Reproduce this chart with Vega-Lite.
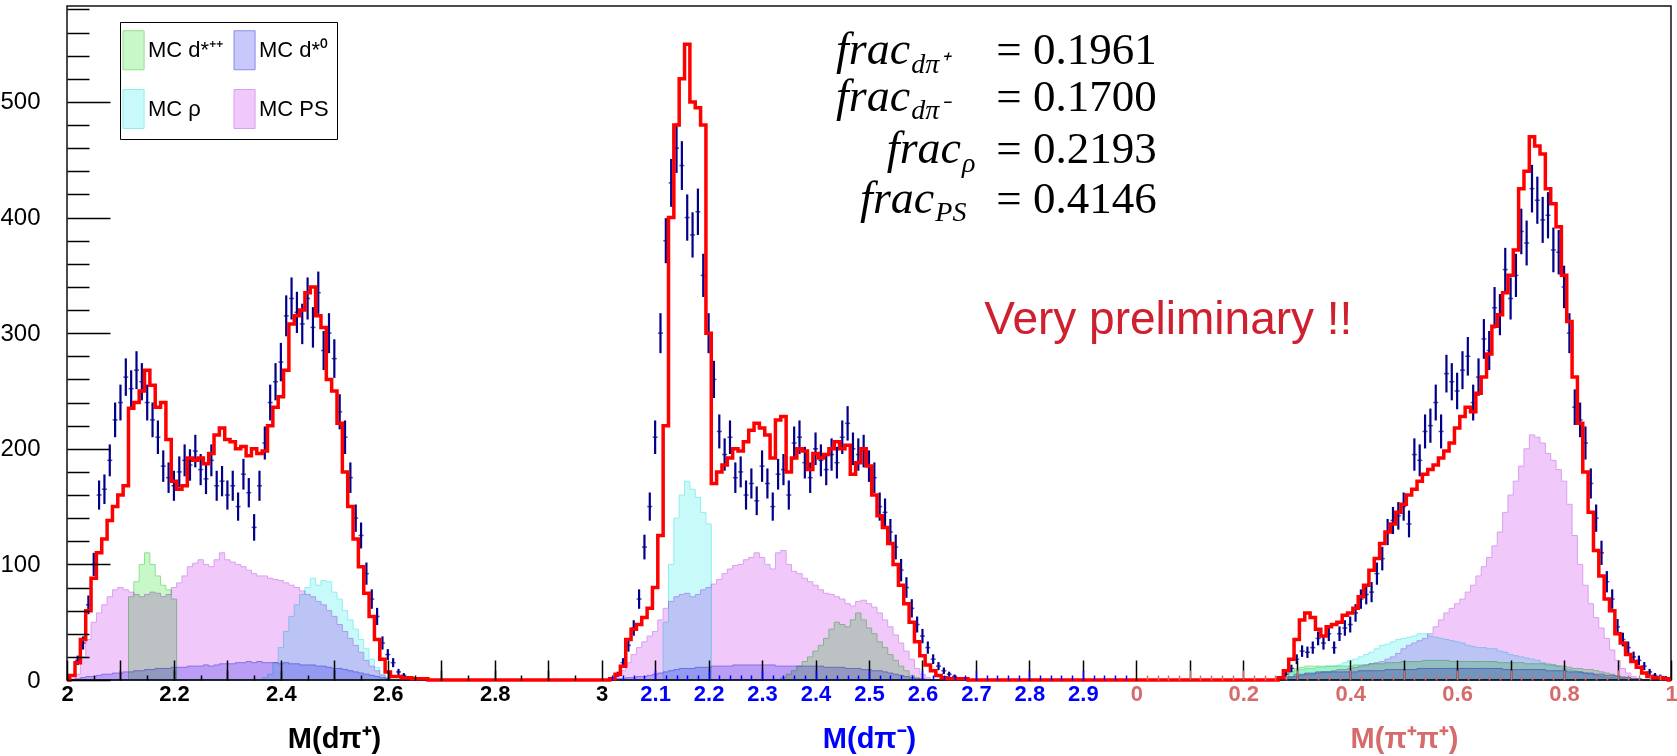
{
"$schema": "https://vega.github.io/schema/vega-lite/v6.json",
"width": 1604, "height": 674,
"autosize": {"type": "none"},
"padding": {"left": 67, "top": 6, "right": 6, "bottom": 76},
"background": "white",
"config": {"font": "Liberation Sans", "view": {"stroke": "#111", "strokeWidth": 1.5}, "axis": {"grid": false}},
"datasets": {
"h": [
{"p":1,"m":2.00,"d":0,"e":0,"f":0,"s":0,"r":0,"g":0,"b":0},
{"p":1,"m":2.01,"d":0,"e":0,"f":4,"s":1,"r":0,"g":0,"b":0},
{"p":1,"m":2.02,"d":17,"e":4.1,"f":15,"s":5,"r":0,"g":0,"b":1},
{"p":1,"m":2.03,"d":32,"e":5.7,"f":35,"s":20,"r":0,"g":0,"b":2},
{"p":1,"m":2.04,"d":65,"e":8.1,"f":60,"s":35,"r":0,"g":0,"b":3},
{"p":1,"m":2.05,"d":100,"e":10,"f":88,"s":50,"r":0,"g":0,"b":3},
{"p":1,"m":2.06,"d":160,"e":12.6,"f":110,"s":58,"r":0,"g":0,"b":4},
{"p":1,"m":2.07,"d":165,"e":12.8,"f":122,"s":65,"r":0,"g":0,"b":5},
{"p":1,"m":2.08,"d":190,"e":13.8,"f":138,"s":72,"r":0,"g":0,"b":5},
{"p":1,"m":2.09,"d":225,"e":15,"f":150,"s":78,"r":0,"g":0,"b":6},
{"p":1,"m":2.10,"d":240,"e":15.5,"f":160,"s":80,"r":0,"g":0,"b":6},
{"p":1,"m":2.11,"d":262,"e":16.2,"f":168,"s":78,"r":0,"g":0,"b":7},
{"p":1,"m":2.12,"d":252,"e":15.9,"f":235,"s":76,"r":0,"g":72,"b":7},
{"p":1,"m":2.13,"d":268,"e":16.4,"f":240,"s":74,"r":0,"g":85,"b":8},
{"p":1,"m":2.14,"d":258,"e":16.1,"f":250,"s":72,"r":0,"g":100,"b":8},
{"p":1,"m":2.15,"d":240,"e":15.5,"f":268,"s":74,"r":0,"g":110,"b":9},
{"p":1,"m":2.16,"d":225,"e":15,"f":255,"s":76,"r":0,"g":100,"b":9},
{"p":1,"m":2.17,"d":210,"e":14.5,"f":236,"s":75,"r":0,"g":90,"b":10},
{"p":1,"m":2.18,"d":185,"e":13.6,"f":240,"s":72,"r":0,"g":82,"b":10},
{"p":1,"m":2.19,"d":175,"e":13.2,"f":208,"s":74,"r":0,"g":78,"b":10},
{"p":1,"m":2.20,"d":168,"e":13,"f":172,"s":80,"r":0,"g":70,"b":11},
{"p":1,"m":2.21,"d":180,"e":13.4,"f":165,"s":84,"r":0,"g":0,"b":11},
{"p":1,"m":2.22,"d":190,"e":13.8,"f":168,"s":90,"r":0,"g":0,"b":11},
{"p":1,"m":2.23,"d":186,"e":13.6,"f":192,"s":98,"r":0,"g":0,"b":12},
{"p":1,"m":2.24,"d":198,"e":14.1,"f":190,"s":101,"r":0,"g":0,"b":12},
{"p":1,"m":2.25,"d":182,"e":13.5,"f":192,"s":104,"r":0,"g":0,"b":12},
{"p":1,"m":2.26,"d":174,"e":13.2,"f":187,"s":100,"r":0,"g":0,"b":13},
{"p":1,"m":2.27,"d":190,"e":13.8,"f":196,"s":98,"r":0,"g":0,"b":12},
{"p":1,"m":2.28,"d":168,"e":13,"f":212,"s":104,"r":0,"g":0,"b":13},
{"p":1,"m":2.29,"d":172,"e":13.1,"f":218,"s":110,"r":0,"g":0,"b":14},
{"p":1,"m":2.30,"d":160,"e":12.6,"f":208,"s":104,"r":0,"g":0,"b":14},
{"p":1,"m":2.31,"d":168,"e":13,"f":206,"s":102,"r":0,"g":0,"b":14},
{"p":1,"m":2.32,"d":150,"e":12.2,"f":200,"s":100,"r":0,"g":0,"b":15},
{"p":1,"m":2.33,"d":178,"e":13.3,"f":202,"s":98,"r":0,"g":0,"b":15},
{"p":1,"m":2.34,"d":162,"e":12.7,"f":194,"s":95,"r":0,"g":0,"b":16},
{"p":1,"m":2.35,"d":132,"e":11.5,"f":200,"s":92,"r":0,"g":0,"b":15},
{"p":1,"m":2.36,"d":168,"e":13,"f":196,"s":90,"r":0,"g":0,"b":16},
{"p":1,"m":2.37,"d":205,"e":14.3,"f":198,"s":90,"r":2,"g":0,"b":15},
{"p":1,"m":2.38,"d":240,"e":15.5,"f":220,"s":88,"r":5,"g":0,"b":15},
{"p":1,"m":2.39,"d":258,"e":16.1,"f":236,"s":87,"r":15,"g":0,"b":15},
{"p":1,"m":2.40,"d":275,"e":16.6,"f":245,"s":86,"r":28,"g":0,"b":14},
{"p":1,"m":2.41,"d":315,"e":17.7,"f":268,"s":84,"r":42,"g":0,"b":15},
{"p":1,"m":2.42,"d":330,"e":18.2,"f":308,"s":82,"r":55,"g":0,"b":14},
{"p":1,"m":2.43,"d":318,"e":17.8,"f":315,"s":80,"r":65,"g":0,"b":14},
{"p":1,"m":2.44,"d":308,"e":17.5,"f":320,"s":77,"r":74,"g":0,"b":13},
{"p":1,"m":2.45,"d":330,"e":18.2,"f":335,"s":74,"r":80,"g":0,"b":13},
{"p":1,"m":2.46,"d":305,"e":17.5,"f":340,"s":72,"r":88,"g":0,"b":13},
{"p":1,"m":2.47,"d":335,"e":18.3,"f":315,"s":68,"r":82,"g":0,"b":12},
{"p":1,"m":2.48,"d":285,"e":16.9,"f":305,"s":65,"r":86,"g":0,"b":12},
{"p":1,"m":2.49,"d":300,"e":17.3,"f":260,"s":60,"r":85,"g":0,"b":11},
{"p":1,"m":2.50,"d":278,"e":16.7,"f":250,"s":55,"r":76,"g":0,"b":10},
{"p":1,"m":2.51,"d":232,"e":15.2,"f":222,"s":48,"r":70,"g":0,"b":10},
{"p":1,"m":2.52,"d":210,"e":14.5,"f":180,"s":42,"r":60,"g":0,"b":9},
{"p":1,"m":2.53,"d":175,"e":13.2,"f":150,"s":36,"r":52,"g":0,"b":8},
{"p":1,"m":2.54,"d":140,"e":11.8,"f":122,"s":30,"r":44,"g":0,"b":7},
{"p":1,"m":2.55,"d":125,"e":11.2,"f":98,"s":24,"r":35,"g":0,"b":6},
{"p":1,"m":2.56,"d":92,"e":9.6,"f":75,"s":17,"r":27,"g":0,"b":5},
{"p":1,"m":2.57,"d":70,"e":8.4,"f":55,"s":12,"r":18,"g":0,"b":4},
{"p":1,"m":2.58,"d":55,"e":7.4,"f":35,"s":8,"r":11,"g":0,"b":3},
{"p":1,"m":2.59,"d":32,"e":5.7,"f":18,"s":4,"r":5,"g":0,"b":2},
{"p":1,"m":2.60,"d":22,"e":4.7,"f":7,"s":2,"r":1,"g":0,"b":1},
{"p":1,"m":2.61,"d":15,"e":3.9,"f":3,"s":0,"r":0,"g":0,"b":0},
{"p":1,"m":2.62,"d":7,"e":2.6,"f":3,"s":0,"r":0,"g":0,"b":0},
{"p":1,"m":2.63,"d":4,"e":2,"f":2,"s":0,"r":0,"g":0,"b":0},
{"p":1,"m":2.64,"d":2,"e":1.4,"f":2,"s":0,"r":0,"g":0,"b":0},
{"p":1,"m":2.65,"d":0,"e":0,"f":1,"s":0,"r":0,"g":0,"b":0},
{"p":1,"m":2.70,"d":0,"e":0,"f":0,"s":0,"r":0,"g":0,"b":0},
{"p":1,"m":2.99,"d":0,"e":0,"f":0,"s":0,"r":0,"g":0,"b":0},
{"p":2,"m":2.00,"d":0,"e":0,"f":0,"s":0,"r":0,"g":0,"b":0},
{"p":2,"m":2.01,"d":0,"e":0,"f":0,"s":0,"r":0,"g":0,"b":0},
{"p":2,"m":2.02,"d":0,"e":0,"f":1,"s":0,"r":0,"g":0,"b":0},
{"p":2,"m":2.03,"d":5,"e":2.2,"f":5,"s":3,"r":0,"g":0,"b":1},
{"p":2,"m":2.04,"d":15,"e":3.9,"f":12,"s":8,"r":0,"g":0,"b":1},
{"p":2,"m":2.05,"d":30,"e":5.5,"f":35,"s":15,"r":0,"g":0,"b":2},
{"p":2,"m":2.06,"d":45,"e":6.7,"f":44,"s":22,"r":0,"g":0,"b":2},
{"p":2,"m":2.07,"d":70,"e":8.4,"f":48,"s":28,"r":0,"g":0,"b":3},
{"p":2,"m":2.08,"d":115,"e":10.7,"f":54,"s":33,"r":0,"g":0,"b":3},
{"p":2,"m":2.09,"d":150,"e":12.2,"f":62,"s":38,"r":0,"g":0,"b":4},
{"p":2,"m":2.10,"d":210,"e":14.5,"f":80,"s":42,"r":0,"g":0,"b":5},
{"p":2,"m":2.11,"d":300,"e":17.3,"f":125,"s":52,"r":0,"g":0,"b":6},
{"p":2,"m":2.12,"d":380,"e":19.5,"f":220,"s":62,"r":50,"g":0,"b":7},
{"p":2,"m":2.13,"d":430,"e":20.7,"f":400,"s":68,"r":100,"g":0,"b":8},
{"p":2,"m":2.14,"d":460,"e":21.4,"f":480,"s":72,"r":140,"g":0,"b":9},
{"p":2,"m":2.15,"d":445,"e":21.1,"f":520,"s":74,"r":160,"g":0,"b":10},
{"p":2,"m":2.16,"d":400,"e":20,"f":550,"s":75,"r":172,"g":0,"b":10},
{"p":2,"m":2.17,"d":385,"e":19.6,"f":500,"s":72,"r":165,"g":0,"b":10},
{"p":2,"m":2.18,"d":405,"e":20.1,"f":495,"s":74,"r":158,"g":0,"b":11},
{"p":2,"m":2.19,"d":350,"e":18.7,"f":480,"s":78,"r":145,"g":0,"b":11},
{"p":2,"m":2.20,"d":300,"e":17.3,"f":300,"s":80,"r":135,"g":0,"b":11},
{"p":2,"m":2.21,"d":260,"e":16.1,"f":170,"s":83,"r":0,"g":0,"b":12},
{"p":2,"m":2.22,"d":215,"e":14.7,"f":180,"s":87,"r":0,"g":0,"b":12},
{"p":2,"m":2.23,"d":195,"e":14,"f":186,"s":92,"r":0,"g":0,"b":12},
{"p":2,"m":2.24,"d":210,"e":14.5,"f":192,"s":96,"r":0,"g":0,"b":12},
{"p":2,"m":2.25,"d":175,"e":13.2,"f":200,"s":99,"r":0,"g":0,"b":13},
{"p":2,"m":2.26,"d":180,"e":13.4,"f":198,"s":100,"r":0,"g":0,"b":13},
{"p":2,"m":2.27,"d":160,"e":12.6,"f":206,"s":104,"r":0,"g":0,"b":13},
{"p":2,"m":2.28,"d":170,"e":13,"f":216,"s":106,"r":0,"g":0,"b":13},
{"p":2,"m":2.29,"d":155,"e":12.4,"f":222,"s":110,"r":0,"g":0,"b":13},
{"p":2,"m":2.30,"d":185,"e":13.6,"f":218,"s":106,"r":0,"g":0,"b":13},
{"p":2,"m":2.31,"d":170,"e":13,"f":212,"s":100,"r":0,"g":0,"b":13},
{"p":2,"m":2.32,"d":150,"e":12.2,"f":192,"s":96,"r":0,"g":0,"b":13},
{"p":2,"m":2.33,"d":178,"e":13.3,"f":225,"s":110,"r":0,"g":0,"b":12},
{"p":2,"m":2.34,"d":182,"e":13.5,"f":228,"s":112,"r":0,"g":2,"b":12},
{"p":2,"m":2.35,"d":160,"e":12.6,"f":180,"s":100,"r":0,"g":5,"b":12},
{"p":2,"m":2.36,"d":205,"e":14.3,"f":192,"s":94,"r":0,"g":8,"b":12},
{"p":2,"m":2.37,"d":210,"e":14.5,"f":200,"s":92,"r":0,"g":12,"b":12},
{"p":2,"m":2.38,"d":188,"e":13.7,"f":198,"s":88,"r":0,"g":16,"b":12},
{"p":2,"m":2.39,"d":175,"e":13.2,"f":182,"s":85,"r":0,"g":20,"b":12},
{"p":2,"m":2.40,"d":200,"e":14.1,"f":196,"s":82,"r":0,"g":25,"b":12},
{"p":2,"m":2.41,"d":190,"e":13.8,"f":192,"s":78,"r":0,"g":30,"b":12},
{"p":2,"m":2.42,"d":182,"e":13.5,"f":195,"s":75,"r":0,"g":36,"b":11},
{"p":2,"m":2.43,"d":195,"e":14,"f":200,"s":74,"r":0,"g":44,"b":11},
{"p":2,"m":2.44,"d":188,"e":13.7,"f":206,"s":72,"r":0,"g":50,"b":11},
{"p":2,"m":2.45,"d":210,"e":14.5,"f":200,"s":70,"r":0,"g":48,"b":11},
{"p":2,"m":2.46,"d":222,"e":14.9,"f":203,"s":66,"r":0,"g":46,"b":10},
{"p":2,"m":2.47,"d":200,"e":14.1,"f":178,"s":64,"r":0,"g":52,"b":10},
{"p":2,"m":2.48,"d":195,"e":14,"f":188,"s":68,"r":0,"g":58,"b":10},
{"p":2,"m":2.49,"d":198,"e":14.1,"f":200,"s":69,"r":0,"g":52,"b":9},
{"p":2,"m":2.50,"d":185,"e":13.6,"f":185,"s":66,"r":0,"g":45,"b":9},
{"p":2,"m":2.51,"d":175,"e":13.2,"f":160,"s":63,"r":0,"g":40,"b":8},
{"p":2,"m":2.52,"d":150,"e":12.2,"f":142,"s":58,"r":0,"g":33,"b":8},
{"p":2,"m":2.53,"d":145,"e":12,"f":132,"s":52,"r":0,"g":28,"b":7},
{"p":2,"m":2.54,"d":128,"e":11.3,"f":118,"s":46,"r":0,"g":22,"b":6},
{"p":2,"m":2.55,"d":115,"e":10.7,"f":100,"s":39,"r":0,"g":17,"b":5},
{"p":2,"m":2.56,"d":95,"e":9.7,"f":82,"s":32,"r":0,"g":12,"b":4},
{"p":2,"m":2.57,"d":80,"e":8.9,"f":66,"s":25,"r":0,"g":8,"b":3},
{"p":2,"m":2.58,"d":62,"e":7.9,"f":50,"s":18,"r":0,"g":4,"b":2},
{"p":2,"m":2.59,"d":48,"e":6.9,"f":33,"s":10,"r":0,"g":2,"b":1},
{"p":2,"m":2.60,"d":38,"e":6.2,"f":21,"s":5,"r":0,"g":0,"b":1},
{"p":2,"m":2.61,"d":28,"e":5.3,"f":13,"s":2,"r":0,"g":0,"b":0},
{"p":2,"m":2.62,"d":18,"e":4.2,"f":8,"s":0,"r":0,"g":0,"b":0},
{"p":2,"m":2.63,"d":12,"e":3.5,"f":4,"s":0,"r":0,"g":0,"b":0},
{"p":2,"m":2.64,"d":8,"e":2.8,"f":2,"s":0,"r":0,"g":0,"b":0},
{"p":2,"m":2.65,"d":5,"e":2.2,"f":1,"s":0,"r":0,"g":0,"b":0},
{"p":2,"m":2.66,"d":3,"e":1.7,"f":1,"s":0,"r":0,"g":0,"b":0},
{"p":2,"m":2.67,"d":0,"e":0,"f":1,"s":0,"r":0,"g":0,"b":0},
{"p":2,"m":2.70,"d":0,"e":0,"f":0,"s":0,"r":0,"g":0,"b":0},
{"p":2,"m":2.99,"d":0,"e":0,"f":0,"s":0,"r":0,"g":0,"b":0},
{"p":3,"m":0.00,"d":0,"e":0,"f":0,"s":0,"r":0,"g":0,"b":0},
{"p":3,"m":0.25,"d":0,"e":0,"f":0,"s":0,"r":0,"g":0,"b":0},
{"p":3,"m":0.26,"d":0,"e":0,"f":0,"s":0,"r":0,"g":0,"b":0},
{"p":3,"m":0.27,"d":2,"e":1.4,"f":2,"s":0,"r":1,"g":1,"b":1},
{"p":3,"m":0.28,"d":5,"e":2.2,"f":8,"s":1,"r":3,"g":3,"b":2},
{"p":3,"m":0.29,"d":10,"e":3.2,"f":18,"s":2,"r":6,"g":7,"b":3},
{"p":3,"m":0.30,"d":18,"e":4.2,"f":35,"s":3,"r":8,"g":10,"b":5},
{"p":3,"m":0.31,"d":25,"e":5,"f":52,"s":4,"r":9,"g":11,"b":5},
{"p":3,"m":0.32,"d":24,"e":4.9,"f":58,"s":5,"r":10,"g":12,"b":6},
{"p":3,"m":0.33,"d":28,"e":5.3,"f":54,"s":5,"r":10,"g":12,"b":6},
{"p":3,"m":0.34,"d":36,"e":6,"f":44,"s":6,"r":11,"g":12,"b":7},
{"p":3,"m":0.35,"d":32,"e":5.7,"f":38,"s":7,"r":11,"g":12,"b":7},
{"p":3,"m":0.36,"d":40,"e":6.3,"f":46,"s":7,"r":12,"g":12,"b":7},
{"p":3,"m":0.37,"d":28,"e":5.3,"f":48,"s":8,"r":12,"g":12,"b":7},
{"p":3,"m":0.38,"d":40,"e":6.3,"f":50,"s":9,"r":13,"g":12,"b":7},
{"p":3,"m":0.39,"d":45,"e":6.7,"f":56,"s":9,"r":15,"g":12,"b":7},
{"p":3,"m":0.40,"d":48,"e":6.9,"f":58,"s":10,"r":17,"g":12,"b":7},
{"p":3,"m":0.41,"d":58,"e":7.6,"f":62,"s":11,"r":18,"g":13,"b":7},
{"p":3,"m":0.42,"d":70,"e":8.4,"f":72,"s":12,"r":20,"g":13,"b":8},
{"p":3,"m":0.43,"d":74,"e":8.6,"f":82,"s":13,"r":22,"g":13,"b":8},
{"p":3,"m":0.44,"d":76,"e":8.7,"f":95,"s":14,"r":24,"g":14,"b":8},
{"p":3,"m":0.45,"d":92,"e":9.6,"f":105,"s":15,"r":27,"g":14,"b":8},
{"p":3,"m":0.46,"d":105,"e":10.2,"f":118,"s":16,"r":30,"g":14,"b":8},
{"p":3,"m":0.47,"d":128,"e":11.3,"f":128,"s":18,"r":31,"g":15,"b":9},
{"p":3,"m":0.48,"d":138,"e":11.7,"f":135,"s":20,"r":33,"g":15,"b":9},
{"p":3,"m":0.49,"d":142,"e":11.9,"f":145,"s":23,"r":35,"g":15,"b":9},
{"p":3,"m":0.50,"d":150,"e":12.2,"f":152,"s":27,"r":36,"g":16,"b":9},
{"p":3,"m":0.51,"d":135,"e":11.6,"f":160,"s":30,"r":37,"g":16,"b":9},
{"p":3,"m":0.52,"d":195,"e":14,"f":165,"s":32,"r":38,"g":16,"b":9},
{"p":3,"m":0.53,"d":190,"e":13.8,"f":172,"s":34,"r":40,"g":16,"b":10},
{"p":3,"m":0.54,"d":215,"e":14.7,"f":178,"s":36,"r":40,"g":17,"b":10},
{"p":3,"m":0.55,"d":220,"e":14.8,"f":182,"s":40,"r":38,"g":17,"b":10},
{"p":3,"m":0.56,"d":240,"e":15.5,"f":186,"s":46,"r":37,"g":17,"b":10},
{"p":3,"m":0.57,"d":215,"e":14.7,"f":192,"s":52,"r":36,"g":17,"b":10},
{"p":3,"m":0.58,"d":265,"e":16.3,"f":198,"s":58,"r":35,"g":17,"b":10},
{"p":3,"m":0.59,"d":258,"e":16.1,"f":205,"s":62,"r":34,"g":16,"b":10},
{"p":3,"m":0.60,"d":250,"e":15.8,"f":218,"s":66,"r":33,"g":16,"b":10},
{"p":3,"m":0.61,"d":268,"e":16.4,"f":228,"s":70,"r":32,"g":16,"b":10},
{"p":3,"m":0.62,"d":280,"e":16.7,"f":236,"s":76,"r":30,"g":16,"b":10},
{"p":3,"m":0.63,"d":240,"e":15.5,"f":232,"s":82,"r":29,"g":16,"b":10},
{"p":3,"m":0.64,"d":262,"e":16.2,"f":248,"s":90,"r":28,"g":16,"b":10},
{"p":3,"m":0.65,"d":295,"e":17.2,"f":262,"s":98,"r":28,"g":16,"b":10},
{"p":3,"m":0.66,"d":285,"e":16.9,"f":282,"s":106,"r":27,"g":16,"b":10},
{"p":3,"m":0.67,"d":322,"e":17.9,"f":306,"s":116,"r":27,"g":16,"b":10},
{"p":3,"m":0.68,"d":316,"e":17.8,"f":316,"s":128,"r":25,"g":15,"b":10},
{"p":3,"m":0.69,"d":355,"e":18.8,"f":335,"s":145,"r":24,"g":15,"b":9},
{"p":3,"m":0.70,"d":330,"e":18.2,"f":350,"s":160,"r":22,"g":15,"b":9},
{"p":3,"m":0.71,"d":350,"e":18.7,"f":372,"s":172,"r":21,"g":15,"b":9},
{"p":3,"m":0.72,"d":388,"e":19.7,"f":425,"s":185,"r":20,"g":15,"b":9},
{"p":3,"m":0.73,"d":378,"e":19.4,"f":440,"s":200,"r":19,"g":14,"b":9},
{"p":3,"m":0.74,"d":425,"e":20.6,"f":470,"s":212,"r":18,"g":14,"b":9},
{"p":3,"m":0.75,"d":415,"e":20.4,"f":462,"s":210,"r":17,"g":14,"b":9},
{"p":3,"m":0.76,"d":398,"e":19.9,"f":455,"s":205,"r":15,"g":14,"b":9},
{"p":3,"m":0.77,"d":402,"e":20,"f":425,"s":196,"r":14,"g":13,"b":8},
{"p":3,"m":0.78,"d":372,"e":19.3,"f":412,"s":190,"r":13,"g":13,"b":8},
{"p":3,"m":0.79,"d":370,"e":19.2,"f":392,"s":182,"r":12,"g":12,"b":8},
{"p":3,"m":0.80,"d":340,"e":18.4,"f":350,"s":172,"r":10,"g":12,"b":8},
{"p":3,"m":0.81,"d":300,"e":17.3,"f":310,"s":152,"r":9,"g":11,"b":7},
{"p":3,"m":0.82,"d":236,"e":15.4,"f":262,"s":125,"r":8,"g":10,"b":7},
{"p":3,"m":0.83,"d":225,"e":15,"f":222,"s":100,"r":7,"g":10,"b":7},
{"p":3,"m":0.84,"d":205,"e":14.3,"f":180,"s":82,"r":6,"g":9,"b":6},
{"p":3,"m":0.85,"d":170,"e":13,"f":145,"s":66,"r":5,"g":9,"b":6},
{"p":3,"m":0.86,"d":140,"e":11.8,"f":112,"s":54,"r":4,"g":8,"b":5},
{"p":3,"m":0.87,"d":110,"e":10.5,"f":90,"s":45,"r":3,"g":7,"b":5},
{"p":3,"m":0.88,"d":85,"e":9.2,"f":70,"s":36,"r":2,"g":6,"b":4},
{"p":3,"m":0.89,"d":70,"e":8.4,"f":60,"s":26,"r":2,"g":5,"b":4},
{"p":3,"m":0.90,"d":46,"e":6.8,"f":40,"s":17,"r":1,"g":4,"b":3},
{"p":3,"m":0.91,"d":35,"e":5.9,"f":32,"s":10,"r":1,"g":3,"b":2},
{"p":3,"m":0.92,"d":28,"e":5.3,"f":22,"s":6,"r":0,"g":2,"b":2},
{"p":3,"m":0.93,"d":20,"e":4.5,"f":16,"s":3,"r":0,"g":1,"b":1},
{"p":3,"m":0.94,"d":17,"e":4.1,"f":11,"s":1,"r":0,"g":1,"b":1},
{"p":3,"m":0.95,"d":12,"e":3.5,"f":6,"s":0,"r":0,"g":0,"b":0},
{"p":3,"m":0.96,"d":7,"e":2.6,"f":3,"s":0,"r":0,"g":0,"b":0},
{"p":3,"m":0.97,"d":4,"e":2,"f":2,"s":0,"r":0,"g":0,"b":0},
{"p":3,"m":0.98,"d":3,"e":1.7,"f":2,"s":0,"r":0,"g":0,"b":0},
{"p":3,"m":0.99,"d":2,"e":1.4,"f":1,"s":0,"r":0,"g":0,"b":0},
{"p":3,"m":1.00,"d":0,"e":0,"f":0,"s":0,"r":0,"g":0,"b":0}
],
"ann": [
{"k":"f","u":1.577,"v":533,"t":"frac"},
{"k":"f","u":1.577,"v":492.6,"t":"frac"},
{"k":"f","u":1.672,"v":446.8,"t":"frac"},
{"k":"f","u":1.622,"v":404.3,"t":"frac"},
{"k":"s","u":1.579,"v":525,"t":"dπ⁺"},
{"k":"s","u":1.579,"v":485,"t":"dπ⁻"},
{"k":"s","u":1.674,"v":439,"t":"ρ"},
{"k":"s","u":1.624,"v":397,"t":"PS"},
{"k":"e","u":2.038,"v":533,"t":"= 0.1961"},
{"k":"e","u":2.038,"v":492.6,"t":"= 0.1700"},
{"k":"e","u":2.038,"v":446.8,"t":"= 0.2193"},
{"k":"e","u":2.038,"v":404.3,"t":"= 0.4146"},
{"k":"p","u":1.7156,"v":299.6,"t":"Very preliminary !!"}
]
},
"resolve": {"axis": {"x": "independent", "y": "independent"}},
"layer": [
{
"data": {"name": "h"},
"transform": [
{"calculate": "datum.p == 1 ? datum.m - 2 : (datum.p == 2 ? datum.m - 1 : datum.m + 2)", "as": "u"},
{"fold": ["s", "r", "g", "b"], "as": ["k", "val"]}
],
"mark": {"type": "area", "interpolate": "step", "blend": "multiply", "strokeWidth": 1},
"encoding": {
"x": {"field": "u", "type": "quantitative", "scale": {"domain": [0, 3], "nice": false, "zero": false},
 "axis": {"orient": "bottom", "zindex": 1, "values": [0,0.2,0.4,0.6,0.8,1,1.1,1.2,1.3,1.4,1.5,1.6,1.7,1.8,1.9,2,2.2,2.4,2.6,2.8,3],
  "labelExpr": "datum.value < 1.001 ? format(datum.value + 2, '~g') : (datum.value < 1.999 ? format(datum.value + 1, '.1f') : format(datum.value - 2, '~g'))",
  "labelColor": {"condition": [{"test": "datum.value < 1.001", "value": "#000000"}, {"test": "datum.value < 1.999", "value": "#0000ff"}], "value": "#d66b6b"},
  "ticks": false, "domain": false, "grid": false, "labelFont": "Liberation Sans", "labelFontWeight": "bold", "labelFontSize": 22, "labelPadding": 3,
  "labelOverlap": false, "labelFlush": false, "labelBound": false,
  "title": "M(dπ⁺)", "titleX": 267, "titleY": 67, "titleFont": "Liberation Sans", "titleFontSize": 29, "titleFontWeight": "bold", "titleColor": "#000000", "titleBaseline": "alphabetic", "titleAlign": "center"}},
"y": {"field": "val", "type": "quantitative", "stack": null, "scale": {"domain": [0, 583], "nice": false},
 "axis": {"orient": "left", "zindex": 1, "values": [0,100,200,300,400,500], "ticks": false, "domain": false, "grid": false, "labelFont": "Liberation Sans", "labelFontSize": 24, "labelPadding": 27, "labelColor": "#000000", "title": null}},
"color": {"field": "k", "type": "nominal", "scale": {"domain": ["g", "r", "b", "s"], "range": ["#c8f8c8", "#c8fafa", "#c8c8fa", "#f0c8fa"]},
 "legend": {"orient": "none", "legendX": 53, "legendY": 16, "columns": 2, "title": null, "symbolType": "M-1.28,-1H-0.2V1H-1.28Z", "symbolSize": 1521, "symbolStrokeWidth": 1, "symbolStrokeColor": "#bbbbbb", "symbolOpacity": 1,
  "labelFont": "Liberation Sans", "labelFontSize": 22, "labelColor": "#000000", "labelOffset": -20, "padding": 8, "rowPadding": 15, "columnPadding": 8, "strokeColor": "#000000", "fillColor": "#ffffff",
  "labelExpr": "datum.label == 'g' ? 'MC d*⁺⁺' : (datum.label == 'b' ? 'MC d*⁰' : (datum.label == 'r' ? 'MC ρ' : 'MC PS'))"}},
"stroke": {"field": "k", "type": "nominal", "scale": {"domain": ["g", "r", "b", "s"], "range": ["#90e090", "#90eef0", "#8c8cf0", "#d8a0f0"]}, "legend": null}
}
},
{
"data": {"name": "h"},
"transform": [
{"calculate": "datum.p == 1 ? datum.m - 2 : (datum.p == 2 ? datum.m - 1 : datum.m + 2)", "as": "u"},
{"filter": "datum.d > 0"},
{"calculate": "datum.d - datum.e", "as": "lo"},
{"calculate": "datum.d + datum.e", "as": "hi"}
],
"mark": {"type": "rule", "color": "#00008b", "strokeWidth": 2.2},
"encoding": {
"x": {"field": "u", "type": "quantitative", "scale": {"domain": [0, 3], "nice": false, "zero": false},
 "axis": {"orient": "bottom", "zindex": 1, "values": [0,0.1,0.2,0.3,0.4,0.5,0.6,0.7,0.8,0.9,1,1.1,1.2,1.3,1.4,1.5,1.6,1.7,1.8,1.9,2,2.1,2.2,2.3,2.4,2.5,2.6,2.7,2.8,2.9,3],
  "tickSize": -20, "tickColor": "#000000", "tickWidth": 1.5, "labels": false, "domain": false, "grid": false,
  "title": "M(dπ⁻)", "titleX": 802, "titleY": 67, "titleFont": "Liberation Sans", "titleFontSize": 29, "titleFontWeight": "bold", "titleColor": "#0000ff", "titleBaseline": "alphabetic", "titleAlign": "center"}},
"y": {"field": "lo", "type": "quantitative", "scale": {"domain": [0, 583], "nice": false},
 "axis": {"orient": "left", "zindex": 1, "values": [0,100,200,300,400,500], "tickSize": -43, "tickWidth": 1.5, "tickColor": "#000000", "labels": false, "domain": false, "grid": false, "title": null}},
"y2": {"field": "hi"}
}
},
{
"data": {"name": "h"},
"transform": [
{"calculate": "datum.p == 1 ? datum.m - 2 : (datum.p == 2 ? datum.m - 1 : datum.m + 2)", "as": "u"},
{"filter": "datum.d > 0"}
],
"mark": {"type": "tick", "orient": "horizontal", "color": "#00008b", "size": 5, "thickness": 1.5},
"encoding": {
"x": {"field": "u", "type": "quantitative", "scale": {"domain": [0, 3], "nice": false, "zero": false},
 "axis": {"orient": "bottom", "zindex": 1, "values": [0.05,0.15,0.25,0.35,0.45,0.55,0.65,0.75,0.85,0.95,1.02,1.04,1.06,1.08,1.12,1.14,1.16,1.18,1.22,1.24,1.26,1.28,1.32,1.34,1.36,1.38,1.42,1.44,1.46,1.48,1.52,1.54,1.56,1.58,1.62,1.64,1.66,1.68,1.72,1.74,1.76,1.78,1.82,1.84,1.86,1.88,1.92,1.94,1.96,1.98,2.02,2.04,2.06,2.08,2.12,2.14,2.16,2.18,2.22,2.24,2.26,2.28,2.32,2.34,2.36,2.38,2.42,2.44,2.46,2.48,2.52,2.54,2.56,2.58,2.62,2.64,2.66,2.68,2.72,2.74,2.76,2.78,2.82,2.84,2.86,2.88,2.92,2.94,2.96,2.98],
  "tickSize": -5, "tickWidth": 1.5,
  "tickColor": {"condition": [{"test": "datum.value < 1.001", "value": "#000000"}, {"test": "datum.value < 1.999", "value": "#0000ff"}], "value": "#d66b6b"},
  "labels": false, "domain": false, "grid": false,
  "title": "M(π⁺π⁺)", "titleX": 1337, "titleY": 67, "titleFont": "Liberation Sans", "titleFontSize": 29, "titleFontWeight": "bold", "titleColor": "#d66b6b", "titleBaseline": "alphabetic", "titleAlign": "center"}},
"y": {"field": "d", "type": "quantitative", "scale": {"domain": [0, 583], "nice": false},
 "axis": {"orient": "left", "zindex": 1, "values": [20,40,60,80,120,140,160,180,220,240,260,280,320,340,360,380,420,440,460,480,520,540,560,580], "tickSize": -22, "tickWidth": 1.5, "tickColor": "#000000", "labels": false, "domain": false, "grid": false, "title": null}}
}
},
{
"data": {"name": "h"},
"transform": [
{"calculate": "datum.p == 1 ? datum.m - 2 : (datum.p == 2 ? datum.m - 1 : datum.m + 2)", "as": "u"}
],
"mark": {"type": "line", "interpolate": "step", "color": "#ff0000", "strokeWidth": 3.5},
"encoding": {
"x": {"field": "u", "type": "quantitative", "scale": {"domain": [0, 3], "nice": false, "zero": false},
 "axis": {"orient": "bottom", "zindex": 1, "values": [0.1,0.2,0.3,0.4,0.5,0.6,0.7,0.8,0.9,1.1,1.2,1.3,1.4,1.5,1.6,1.7,1.8,1.9,2.1,2.2,2.3,2.4,2.5,2.6,2.7,2.8,2.9],
  "tickSize": -10, "tickWidth": 1.5,
  "tickColor": {"condition": [{"test": "datum.value < 1.001", "value": "#000000"}, {"test": "datum.value < 1.999", "value": "#0000ff"}], "value": "#d66b6b"},
  "labels": false, "domain": false, "grid": false, "title": null}},
"y": {"field": "f", "type": "quantitative", "scale": {"domain": [0, 583], "nice": false}, "axis": null}
}
},
{
"data": {"name": "ann"},
"transform": [{"filter": "datum.k == 'f'"}],
"mark": {"type": "text", "font": "Liberation Serif", "fontStyle": "italic", "fontSize": 46, "align": "right", "baseline": "alphabetic", "color": "#000000"},
"encoding": {
"x": {"field": "u", "type": "quantitative", "scale": {"domain": [0, 3], "nice": false, "zero": false}, "axis": null},
"y": {"field": "v", "type": "quantitative", "scale": {"domain": [0, 583], "nice": false}, "axis": null},
"text": {"field": "t"}
}
},
{
"data": {"name": "ann"},
"transform": [{"filter": "datum.k == 's'"}],
"mark": {"type": "text", "font": "Liberation Serif", "fontStyle": "italic", "fontSize": 28, "align": "left", "baseline": "alphabetic", "color": "#000000"},
"encoding": {
"x": {"field": "u", "type": "quantitative", "scale": {"domain": [0, 3], "nice": false, "zero": false}, "axis": null},
"y": {"field": "v", "type": "quantitative", "scale": {"domain": [0, 583], "nice": false}, "axis": null},
"text": {"field": "t"}
}
},
{
"data": {"name": "ann"},
"transform": [{"filter": "datum.k == 'e'"}],
"mark": {"type": "text", "font": "Liberation Serif", "fontSize": 45, "align": "right", "baseline": "alphabetic", "color": "#000000"},
"encoding": {
"x": {"field": "u", "type": "quantitative", "scale": {"domain": [0, 3], "nice": false, "zero": false}, "axis": null},
"y": {"field": "v", "type": "quantitative", "scale": {"domain": [0, 583], "nice": false}, "axis": null},
"text": {"field": "t"}
}
},
{
"data": {"name": "ann"},
"transform": [{"filter": "datum.k == 'p'"}],
"mark": {"type": "text", "font": "Liberation Sans", "fontSize": 46, "align": "left", "baseline": "alphabetic", "color": "#cf2030"},
"encoding": {
"x": {"field": "u", "type": "quantitative", "scale": {"domain": [0, 3], "nice": false, "zero": false}, "axis": null},
"y": {"field": "v", "type": "quantitative", "scale": {"domain": [0, 583], "nice": false}, "axis": null},
"text": {"field": "t"}
}
}
]
}
